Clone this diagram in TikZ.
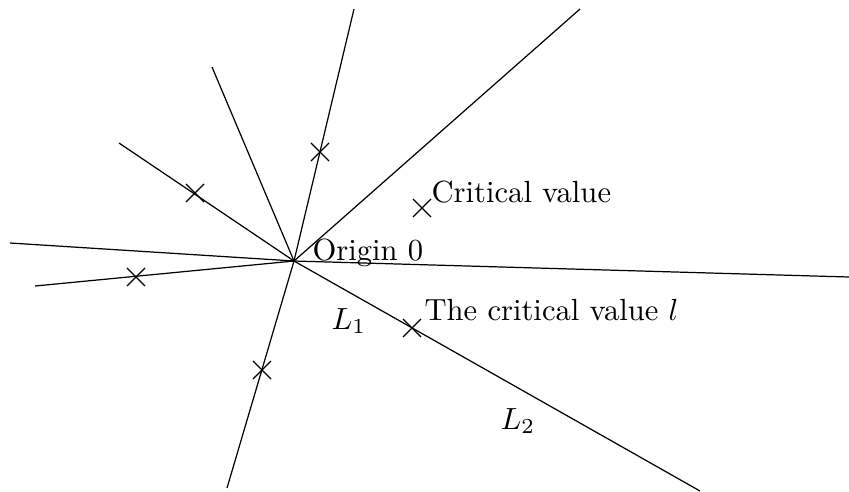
\documentclass[tikz,border=0pt]{standalone}
\usetikzlibrary{shapes.misc}
\begin{document}
\begin{tikzpicture}[x=0.3268pt,y=-0.3268pt,
  ray/.style={line width=0.4pt},
  mk/.style={cross out,draw,minimum size=5.5pt,inner sep=0pt,line width=0.4pt},
  lbl/.style={anchor=base west,inner sep=0pt}]
\useasboundingbox (0,0) rectangle (849,491);
\coordinate (O) at (294,261);
\coordinate (e1) at (10,243);
\coordinate (e2) at (35,286);
\coordinate (e3) at (119,143);
\coordinate (e4) at (212,67);
\coordinate (e5) at (354,9);
\coordinate (e6) at (580,9);
\coordinate (e7) at (849,277);
\coordinate (e8) at (700,491);
\coordinate (e9) at (227,488);
\foreach \e in {e1,e2,e3,e4,e5,e6,e7,e8,e9}
  \draw[ray] (O) -- (\e);
\node[mk] (c1) at (136,277) {};
\node[mk] (c2) at (195,193) {};
\node[mk] (c3) at (320,152) {};
\node[mk] (c4) at (422,208) {};
\node[mk] (c5) at (412,328) {};
\node[mk] (c6) at (262,370) {};
\node[lbl] (t1) at (312,260) {Origin 0};
\node[lbl] (t2) at (431,202) {Critical value};
\node[lbl] (t3) at (424,320) {The critical value $l$};
\node[lbl] (t4) at (331,329) {$L_1$};
\node[lbl] (t5) at (500,429) {$L_2$};
\end{tikzpicture}
\end{document}
